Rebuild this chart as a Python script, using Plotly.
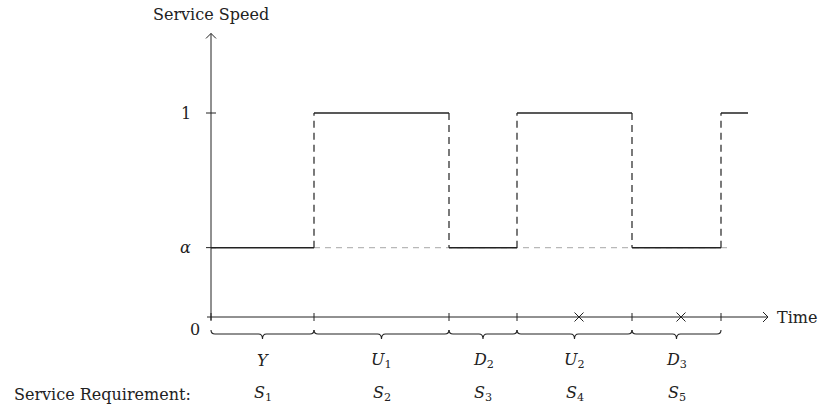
import plotly.graph_objects as go

# ---- data ----
alpha = 0.34
switch_times = [0.0, 10.3, 23.8, 30.6, 42.1, 51.0]
end_time = 53.7
speeds = [alpha, 1.0, alpha, 1.0, alpha, 1.0]
period_labels = ["<i>Y</i>", "<i>U</i><sub>1</sub>", "<i>D</i><sub>2</sub>",
                 "<i>U</i><sub>2</sub>", "<i>D</i><sub>3</sub>"]
service_labels = ["<i>S</i><sub>1</sub>", "<i>S</i><sub>2</sub>", "<i>S</i><sub>3</sub>",
                  "<i>S</i><sub>4</sub>", "<i>S</i><sub>5</sub>"]
cross_times = [36.8, 47.0]
period_ends = [10.3, 23.8, 30.6, 42.1, 51.0]
time_axis_end = 55.7
speed_axis_top = 1.39
alpha_ref_end = 51.9

# ---- geometry helpers (pixel -> data) ----
PX_X = 0.1          # data units per px, x
PX_Y = 1 / 204.0    # data units per px, y
INK = "#222222"
FONT = "DejaVu Serif"
FS = 16

fig = go.Figure()

# gray dashed alpha reference
fig.add_trace(go.Scatter(x=[switch_times[1], alpha_ref_end], y=[alpha, alpha], mode="lines",
                         line=dict(color="#b8b8b8", width=1.2, dash="6px,5px"),
                         hoverinfo="skip", showlegend=False))

# axes
fig.add_trace(go.Scatter(x=[-4 * PX_X, time_axis_end], y=[0, 0], mode="lines",
                         line=dict(color=INK, width=1), hoverinfo="skip", showlegend=False))
fig.add_trace(go.Scatter(x=[0, 0], y=[-3 * PX_Y, speed_axis_top], mode="lines",
                         line=dict(color=INK, width=1), hoverinfo="skip", showlegend=False))
# arrowheads
ah = 5
fig.add_trace(go.Scatter(
    x=[time_axis_end - ah * PX_X, time_axis_end, time_axis_end - ah * PX_X, None,
       -ah * PX_X, 0, ah * PX_X],
    y=[ah * PX_Y, 0, -ah * PX_Y, None,
       speed_axis_top - ah * PX_Y, speed_axis_top, speed_axis_top - ah * PX_Y],
    mode="lines", line=dict(color=INK, width=1), hoverinfo="skip", showlegend=False))

# ticks
tx, ty = [], []
for t in [0.0] + period_ends:
    tx += [t, t, None]
    ty += [4 * PX_Y, -4 * PX_Y, None]
for lvl in [1.0, alpha]:
    tx += [-5 * PX_X, 5 * PX_X, None]
    ty += [lvl, lvl, None]
fig.add_trace(go.Scatter(x=tx, y=ty, mode="lines", line=dict(color=INK, width=1),
                         hoverinfo="skip", showlegend=False))

# solid horizontal segments
hx, hy = [], []
bounds = switch_times + [end_time]
for i, s in enumerate(speeds):
    hx += [bounds[i], bounds[i + 1], None]
    hy += [s, s, None]
fig.add_trace(go.Scatter(x=hx, y=hy, mode="lines", line=dict(color=INK, width=1.5),
                         hoverinfo="skip", showlegend=False))

# dashed verticals at switches
vx, vy = [], []
for i in range(1, len(switch_times)):
    vx += [switch_times[i], switch_times[i], None]
    vy += [speeds[i - 1], speeds[i], None]
fig.add_trace(go.Scatter(x=vx, y=vy, mode="lines",
                         line=dict(color=INK, width=1.2, dash="7px,5px"),
                         hoverinfo="skip", showlegend=False))

# crosses
fig.add_trace(go.Scatter(x=cross_times, y=[0] * len(cross_times), mode="markers",
                         marker=dict(symbol="x-thin", size=9, line=dict(color=INK, width=1)),
                         hoverinfo="skip", showlegend=False))

# braces
y_top = -13 * PX_Y
y_mid = -17 * PX_Y
y_tip = -22 * PX_Y
starts = [0.0] + period_ends[:-1]
c = 4 * PX_X
for a, b in zip(starts, period_ends):
    m = (a + b) / 2
    path = (f"M {a},{y_top} Q {a},{y_mid} {a + c},{y_mid} L {m - c},{y_mid} "
            f"Q {m},{y_mid} {m},{y_tip} Q {m},{y_mid} {m + c},{y_mid} "
            f"L {b - c},{y_mid} Q {b},{y_mid} {b},{y_top}")
    fig.add_shape(type="path", path=path, xref="x", yref="y",
                  line=dict(color=INK, width=1.1))

# labels
def txt(x, y, s, xa="center", size=FS):
    fig.add_annotation(x=x, y=y, xref="x", yref="y", text=s, showarrow=False,
                       xanchor=xa, yanchor="middle",
                       font=dict(family=FONT, size=size, color=INK))

for a, b, pl, sl in zip(starts, period_ends, period_labels, service_labels):
    m = (a + b) / 2
    txt(m, -43 * PX_Y, pl)
    txt(m, -76 * PX_Y, sl)

txt(0, 303 * PX_Y, "Service Speed")
txt(-1.8, 1.0, "1", xa="right")
txt(-1.8, alpha, "<i>α</i>", xa="right")
txt(-0.9, -12 * PX_Y, "0", xa="right")
txt(time_axis_end + 0.7, 0, "Time", xa="left")
txt(-1.8, -77 * PX_Y, "Service Requirement:", xa="right")

fig.update_layout(
    width=824, height=407, autosize=False,
    margin=dict(l=0, r=0, t=0, b=0),
    paper_bgcolor="white", plot_bgcolor="white",
    xaxis=dict(visible=False, range=[-21.1, 61.3], fixedrange=True),
    yaxis=dict(visible=False, range=[-90 * PX_Y, 317 * PX_Y], fixedrange=True),
    showlegend=False,
)

fig.write_html("out.html", config={"displayModeBar": False},
               post_script="document.body.style.margin='0';document.body.style.overflow='hidden';")
